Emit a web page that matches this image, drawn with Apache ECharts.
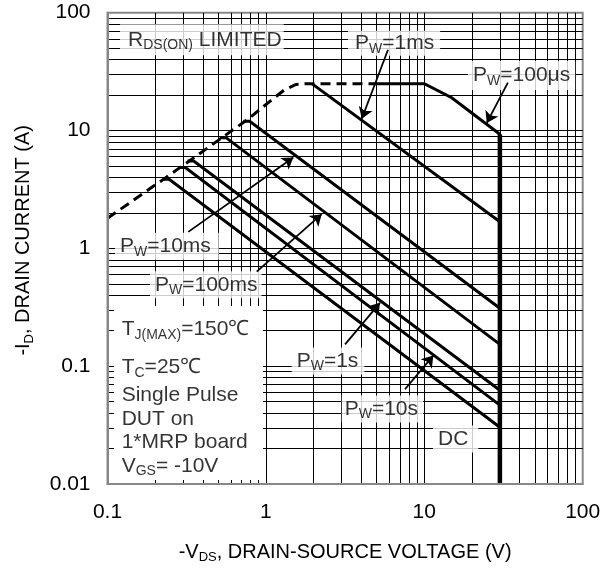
<!DOCTYPE html>
<html><head><meta charset="utf-8">
<script src="https://cdn.jsdelivr.net/npm/echarts@6/dist/echarts.min.js"></script>
<style>html,body{margin:0;padding:0;background:#fff}#c{width:616px;height:569px}</style>
</head><body><div id="c"></div>
<script>
// ---- data (V, A) ----
const xTicks = [0.1, 1, 10, 100];
const yTicks = [0.01, 0.1, 1, 10, 100];
const rdsLimit = [[0.1,1.8],[0.225,3.85],[0.76,12.3],[1.05,17.5],[1.3,22],[1.55,24.6],[1.8,25],[5,25]];
const pw100us = [[5,25],[10,25],[14.9,19],[30,9.3]];
const pw1ms   = [[1.95,25],[30,1.68]];
const pw10ms  = [[0.72,12.0],[0.79,12.0],[30,0.31]];
const pw100ms = [[0.51,8.7],[0.56,8.7],[30,0.153]];
const pw1s    = [[0.32,5.5],[0.35,5.5],[30,0.0625]];
const pw10s   = [[0.285,4.85],[0.31,4.85],[30,0.0467]];
const pwDC    = [[0.225,3.85],[0.245,3.85],[30,0.0303]];
const vdsMax  = [[30,9.3],[30,0.01]];

// ---- annotation texts ----
const boxedLabels = [
  {t:'{n|R}{s|DS(ON)}{n| LIMITED}', at:[0.12,58.9], pad:[3,2,3,8]},
  {t:'{n|P}{s|W}{n|=1ms}', at:[3.30,55], pad:[0,6,0,7]},
  {t:'{n|P}{s|W}{n|=100μs}', at:[18.9,29.3], pad:[2,5,2,5]},
  {t:'{n|P}{s|W}{n|=10ms}', at:[0.1115,1.04], pad:[1,8,1,5]},
  {t:'{n|P}{s|W}{n|=100ms}', at:[0.1855,0.49], pad:[1,4,1,5]},
  {t:'{n|P}{s|W}{n|=1s}', at:[1.455,0.1107], pad:[1,6,1,5]},
  {t:'{n|P}{s|W}{n|=10s}', at:[3.01,0.0432], pad:[1,5,1,3]},
  {t:'{n|DC}', at:[11.35,0.0241], pad:[1,10,1,5]}
];
const blockLines = [
  {t:'{n|T}{s|J(MAX)}{n|=150℃}', at:[0.1229,0.205]},
  {t:'{n|T}{s|C}{n|=25℃}', at:[0.1229,0.098]},
  {t:'{n|Single Pulse}', at:[0.1229,0.057]},
  {t:'{n|DUT on}', at:[0.1229,0.0356]},
  {t:'{n|1*MRP board}', at:[0.1229,0.0226]},
  {t:'{n|V}{s|GS}{n|= -10V}', at:[0.1229,0.0142]}
];
const blockBox = [[0.11,0.3236],[0.959,0.01083]];
const arrows = [
  [[5.9,48.5],[4.03,12.6]],
  [[33.7,25.5],[24.8,11.6]],
  [[0.3236,1.38],[1.489,5.9]],
  [[0.875,0.635],[2.25,1.95]],
  [[3.16,0.153],[5.25,0.345]],
  [[7.55,0.0637],[11.4,0.123]]
];

const FF = 'Liberation Sans, Arial, sans-serif';
const rich = {
  n:{fontSize:21, fontFamily:FF, color:'#000', lineHeight:25},
  s:{fontSize:14, fontFamily:FF, color:'#000', lineHeight:14, verticalAlign:'bottom'}
};
const richT = {
  n:{fontSize:20, fontFamily:FF, color:'#000', lineHeight:24},
  s:{fontSize:13, fontFamily:FF, color:'#000', lineHeight:13, verticalAlign:'bottom'}
};
const minorVals = (lo, hi) => {
  const out = [];
  for (let e = Math.log10(lo); e < Math.log10(hi); e++) {
    for (let k = 1; k <= 9; k++) {
      const v = k * Math.pow(10, e);
      if (v > lo * 1.0001) out.push(+v.toPrecision(3));
    }
  }
  return out;
};
const gridX = minorVals(xTicks[0], xTicks[xTicks.length-1]);
const gridY = minorVals(yTicks[0], yTicks[yTicks.length-1]);

const curve = (data, w, type) => ({
  type:'line', data, symbol:'none', silent:true, z:4, animation:false,
  lineStyle:{color:'#000', width:w, type: type || 'solid', cap:'butt', join:'miter'}
});
const fmt = v => String(+(+v).toPrecision(3));

const chart = echarts.init(document.getElementById('c'), null, {renderer:'canvas'});
chart.setOption({
  animation:false,
  backgroundColor:'#fff',
  grid:{left:107.5, right:33.3, top:12.7, bottom:82, show:true, borderColor:'#888', borderWidth:2, backgroundColor:'transparent'},
  xAxis:{type:'log', logBase:10, min:xTicks[0], max:xTicks[xTicks.length-1], z:10,
    axisLine:{show:true, lineStyle:{color:'#888', width:2}}, axisTick:{show:false}, splitLine:{show:false},
    axisLabel:{fontSize:21, fontFamily:FF, color:'#000', margin:18, formatter:fmt},
    name:'{n|-V}{s|DS}{n|, DRAIN-SOURCE VOLTAGE (V)}', nameLocation:'middle', nameGap:56,
    nameTextStyle:{rich:richT}},
  yAxis:{type:'log', logBase:10, min:yTicks[0], max:yTicks[yTicks.length-1], z:10,
    axisLine:{show:true, lineStyle:{color:'#888', width:2}}, axisTick:{show:false}, splitLine:{show:false},
    axisLabel:{fontSize:21, fontFamily:FF, color:'#000', margin:17, formatter:fmt},
    name:'{n|-I}{s|D}{n|, DRAIN CURRENT (A)}', nameLocation:'middle', nameGap:72, nameRotate:90,
    nameTextStyle:{rich:richT, padding:[0,0,0,16]}},
  series:[
    {type:'line', data:[], z:1, silent:true,
      markLine:{z:1, silent:true, symbol:'none', animation:false, label:{show:false},
        lineStyle:{color:'#000', width:1, type:'solid'}, emphasis:{disabled:true},
        data:[...gridX.map(v=>({xAxis:v})), ...gridY.map(v=>({yAxis:v}))]}},
    {type:'line', data:[], z:2, silent:true,
      markArea:{z:2, silent:true, animation:false, itemStyle:{color:'#fff', opacity:1}, emphasis:{disabled:true},
        data:[[{coord:blockBox[0]},{coord:blockBox[1]}]]}},
    {type:'scatter', z:3, silent:true, symbolSize:0,
      data: boxedLabels.map(a=>({value:a.at, label:{show:true, position:'right', distance:0,
        formatter:a.t, rich, backgroundColor:'#fff', padding:a.pad}}))},
    {type:'scatter', z:3, silent:true, symbolSize:0,
      data: blockLines.map(a=>({value:a.at, label:{show:true, position:'right', distance:0,
        formatter:a.t, rich}}))},
    curve(rdsLimit, 3, [10,6]),
    curve(pw100us, 3), curve(pw1ms, 3), curve(pw10ms, 3), curve(pw100ms, 3),
    curve(pw1s, 3), curve(pw10s, 3), curve(pwDC, 3),
    curve(vdsMax, 4.5),
    {type:'lines', coordinateSystem:'cartesian2d', z:5, silent:true, animation:false,
      symbol:['none','arrow'], symbolSize:[0,11],
      lineStyle:{color:'#000', width:1.8, opacity:1},
      data: arrows.map(c=>({coords:c}))}
  ]
});
</script></body></html>
